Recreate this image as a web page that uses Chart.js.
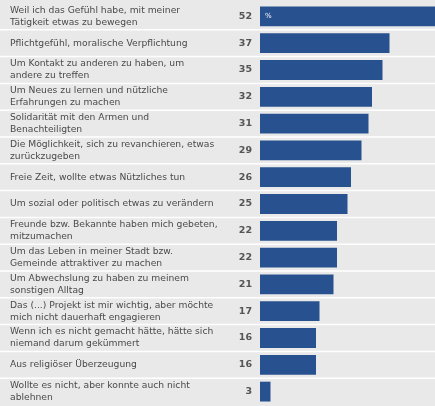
<!DOCTYPE html>
<html>
<head>
<meta charset="utf-8">
<script src="https://cdn.jsdelivr.net/npm/chart.js@4"></script>
<style>
  html, body { margin: 0; padding: 0; background: #e9e9e9; }
  #wrap { width: 435px; height: 406px; }
</style>
</head>
<body>
<div id="wrap"><canvas id="graficoMotive"></canvas></div>
<script>
// Gründe für das Engagement, Angaben in Prozent
const motive = [
    ['Weil ich das Gefühl habe, mit meiner', 'Tätigkeit etwas zu bewegen'],
    'Pflichtgefühl, moralische Verpflichtung',
    ['Um Kontakt zu anderen zu haben, um', 'andere zu treffen'],
    ['Um Neues zu lernen und nützliche', 'Erfahrungen zu machen'],
    ['Solidarität mit den Armen und', 'Benachteiligten'],
    ['Die Möglichkeit, sich zu revanchieren, etwas', 'zurückzugeben'],
    'Freie Zeit, wollte etwas Nützliches tun',
    'Um sozial oder politisch etwas zu verändern',
    ['Freunde bzw. Bekannte haben mich gebeten,', 'mitzumachen'],
    ['Um das Leben in meiner Stadt bzw.', 'Gemeinde attraktiver zu machen'],
    ['Um Abwechslung zu haben zu meinem', 'sonstigen Alltag'],
    ['Das (...) Projekt ist mir wichtig, aber möchte', 'mich nicht dauerhaft engagieren'],
    ['Wenn ich es nicht gemacht hätte, hätte sich', 'niemand darum gekümmert'],
    'Aus religiöser Überzeugung',
    ['Wollte es nicht, aber konnte auch nicht', 'ablehnen']
];
const prozent = [52, 37, 35, 32, 31, 29, 26, 25, 22, 22, 21, 17, 16, 16, 3];

// weiße Trennlinien über die ganze Breite + Zahlen links neben den Balken
const zeilenPlugin = {
    id: 'zeilen',
    beforeDatasetsDraw(chart) {
        const ctx = chart.ctx;
        const y = chart.scales.y;
        ctx.save();
        ctx.strokeStyle = '#ffffff';
        ctx.lineWidth = 1.5;
        for (let i = 0; i < prozent.length - 1; i++) {
            const yy = (y.getPixelForValue(i) + y.getPixelForValue(i + 1)) / 2;
            ctx.beginPath();
            ctx.moveTo(0, yy);
            ctx.lineTo(chart.width, yy);
            ctx.stroke();
        }
        ctx.restore();
    },
    afterDatasetsDraw(chart) {
        const ctx = chart.ctx;
        const y = chart.scales.y;
        const x = chart.scales.x;
        ctx.save();
        ctx.font = 'bold 9.5px "DejaVu Sans"';
        ctx.fillStyle = '#555555';
        ctx.textAlign = 'right';
        ctx.textBaseline = 'middle';
        prozent.forEach((v, i) => {
            ctx.fillText(String(v), x.left - 8, y.getPixelForValue(i));
        });
        ctx.fillStyle = '#ffffff';
        ctx.font = '7px "DejaVu Sans"';
        ctx.textAlign = 'left';
        ctx.fillText('%', x.left + 5, y.getPixelForValue(0));
        ctx.restore();
    }
};

const ctxMotive = document.getElementById('graficoMotive').getContext('2d');
const graficoMotive = new Chart(ctxMotive, {
    type: 'bar',
    data: {
        labels: motive,
        datasets: [{
            data: prozent,
            backgroundColor: '#28518f',
            borderWidth: 0,
            categoryPercentage: 1,
            barPercentage: 0.74
        }]
    },
    options: {
        indexAxis: 'y',
        responsive: true,
        maintainAspectRatio: false,
        animation: false,
        layout: {
            padding: { left: 10, top: 3, right: 0, bottom: 1 }
        },
        plugins: {
            legend: { display: false },
            tooltip: { enabled: false }
        },
        scales: {
            x: {
                display: false,
                min: 0,
                max: 50
            },
            y: {
                border: { display: false },
                grid: { display: false },
                ticks: {
                    autoSkip: false,
                    crossAlign: 'far',
                    color: '#4a4a4a',
                    font: { family: 'Verdana, "DejaVu Sans"', size: 9.2, lineHeight: 1.3 },
                    padding: 0
                },
                afterFit(scale) {
                    scale.width = 250;
                    // keine Zusatzränder für die mehrzeiligen Randbeschriftungen
                    scale.paddingTop = 0;
                    scale.paddingBottom = 0;
                }
            }
        }
    },
    plugins: [zeilenPlugin]
});
</script>
</body>
</html>
